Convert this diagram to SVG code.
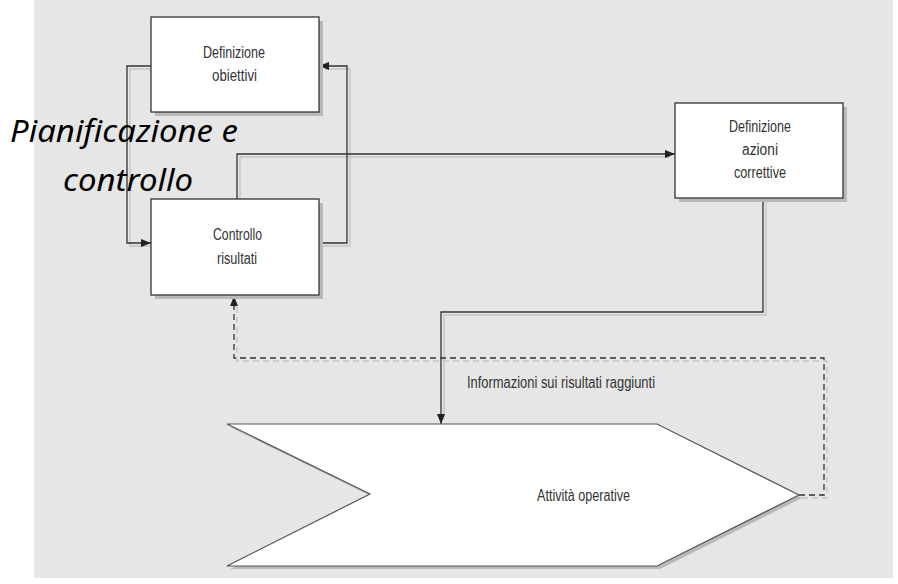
<svg xmlns="http://www.w3.org/2000/svg" width="898" height="584" viewBox="0 0 898 584">
<style>
.box{fill:#fff;stroke:#333;stroke-width:1.3}
.shadow{fill:#b9b9b9}
.lbl{font-family:"Liberation Sans",Arial,sans-serif;font-size:16px;fill:#333;text-anchor:start}
.conn{fill:none;stroke:#333;stroke-width:1.3}
.connsh{fill:none;stroke:#c4c4c4;stroke-width:1.3}
.dash{stroke-dasharray:6 4}
.title{font-family:"Noto Sans","Open Sans",sans-serif;font-style:italic;font-size:31px;fill:#000}
</style>
<defs>
<marker id="arr" markerUnits="userSpaceOnUse" markerWidth="10" markerHeight="8" refX="10" refY="4" orient="auto">
<path d="M0,0 L10,4 L0,8 z" fill="#222"/>
</marker>
</defs>
<rect x="34" y="0" width="859" height="578" fill="#e6e6e6"/>

<g id="connectors">
<g class="connsh">
<path d="M154,69 H130 V246 H150"/>
<path d="M322,246 H350 V69 H325"/>
<path d="M240,199 V157 H670"/>
<path d="M766,201 V315 H444 V420"/>
<path class="dash" d="M802,498 H827 V361 H237 V305"/>
</g>
<path class="conn" d="M151,66 H127 V243 H151" marker-end="url(#arr)"/>
<path class="conn" d="M319,243 H347 V66 H319" marker-end="url(#arr)"/>
<path class="conn" d="M237,199 V154 H675" marker-end="url(#arr)"/>
<path class="conn" d="M763,198 V312 H441 V424" marker-end="url(#arr)"/>
<path class="conn dash" d="M799,495 H824 V358 H234 V296" marker-end="url(#arr)"/>
<text class="lbl" x="467" y="388" textLength="188" lengthAdjust="spacingAndGlyphs">Informazioni sui risultati raggiunti</text>
</g>

<g id="definizione-obiettivi">
<rect class="shadow" x="155" y="21" width="168" height="95"/>
<rect class="box" x="151" y="17" width="168" height="95"/>
<text class="lbl" x="203" y="58" textLength="62" lengthAdjust="spacingAndGlyphs">Definizione</text>
<text class="lbl" x="212" y="81" textLength="45" lengthAdjust="spacingAndGlyphs">obiettivi</text>
</g>

<g id="controllo-risultati">
<rect class="shadow" x="155" y="203" width="168" height="96"/>
<rect class="box" x="151" y="199" width="168" height="96"/>
<text class="lbl" x="213" y="240" textLength="49" lengthAdjust="spacingAndGlyphs">Controllo</text>
<text class="lbl" x="217" y="264" textLength="40" lengthAdjust="spacingAndGlyphs">risultati</text>
</g>

<g id="definizione-azioni">
<rect class="shadow" x="679" y="107" width="168" height="95"/>
<rect class="box" x="675" y="103" width="168" height="95"/>
<text class="lbl" x="729" y="132" textLength="62" lengthAdjust="spacingAndGlyphs">Definizione</text>
<text class="lbl" x="742" y="155" textLength="36" lengthAdjust="spacingAndGlyphs">azioni</text>
<text class="lbl" x="734" y="178" textLength="52" lengthAdjust="spacingAndGlyphs">correttive</text>
</g>

<g id="attivita-operative">
<polygon class="shadow" points="230,427 660,427 802,498 660,569 230,569 373,497"/>
<polygon points="227,424 657,424 799,495 657,566 227,566 370,494" fill="#fff" stroke="#555" stroke-width="1.2"/>
<text class="lbl" x="537" y="501" textLength="93" lengthAdjust="spacingAndGlyphs">Attività operative</text>
</g>

<g id="titolo">
<text class="title" x="10" y="142" textLength="228" lengthAdjust="spacingAndGlyphs">Pianificazione e</text>
<text class="title" x="63" y="191" textLength="130" lengthAdjust="spacingAndGlyphs">controllo</text>
</g>
</svg>
